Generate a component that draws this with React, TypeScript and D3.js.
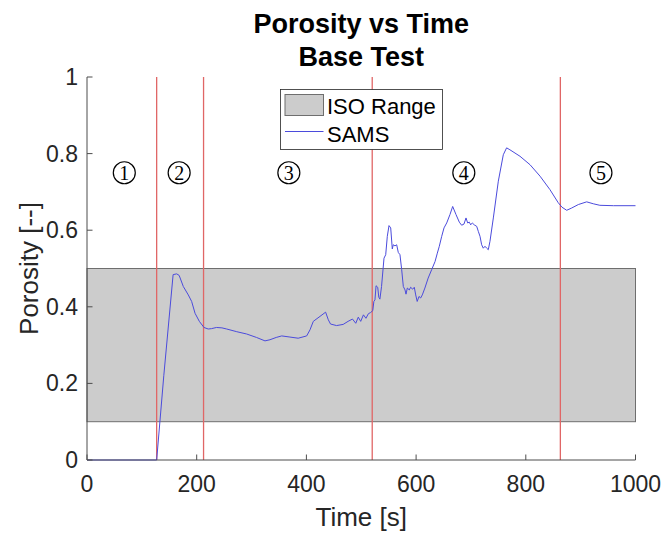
import React from "react";
import * as d3 from "d3";

// SAMS porosity samples: time [s] and porosity [--]
const timeS: number[] = [
  0, 127, 140, 157, 163.5, 168, 175.6, 184.7, 190.8, 197, 204.8, 213.3, 221, 227, 236, 246,
  254.7, 273, 291, 309, 324.5, 333.6, 345, 355, 370, 385, 400.5, 406.6, 412.6, 424.8, 435,
  440, 444, 455, 467, 476, 484, 490, 494.6, 499, 504, 508.6, 513, 517, 521, 523, 525, 527,
  530, 532, 534, 537, 541.5, 544.6, 547.5, 550.6, 553.7, 556.6, 558.4, 561.5, 564.6, 567.5,
  570.6, 573.7, 576.7, 579.8, 581.6, 584, 587.6, 590, 593.8, 596.7, 599.3, 602, 605.3,
  608.3, 611.3, 616, 622, 628.4, 634.5, 638.7, 642.3, 646.7, 650.9, 655.8, 661.8, 666.7,
  672.7, 678.8, 683, 687.3, 691, 694, 697, 699.5, 702.5, 706, 710.5, 713.4, 716.5, 719.5,
  722.5, 725.6, 728.7, 731.6, 734.7, 740.8, 749.9, 759, 765, 771, 789.4, 807.7, 826, 844,
  859, 866, 874.6, 883.7, 895.8, 911, 923, 935, 960, 1000,
];
const porosity: number[] = [
  0, 0, 0.22, 0.484, 0.486, 0.482, 0.453, 0.431, 0.414, 0.383, 0.362, 0.346, 0.342, 0.343,
  0.346, 0.345, 0.342, 0.335, 0.329, 0.32, 0.311, 0.314, 0.32, 0.324, 0.321, 0.318, 0.324,
  0.34, 0.362, 0.375, 0.386, 0.366, 0.355, 0.351, 0.354, 0.362, 0.368, 0.357, 0.373, 0.362,
  0.379, 0.37, 0.382, 0.385, 0.39, 0.414, 0.418, 0.455, 0.451, 0.425, 0.42, 0.453, 0.527,
  0.536, 0.584, 0.612, 0.606, 0.551, 0.562, 0.559, 0.562, 0.542, 0.536, 0.497, 0.453,
  0.444, 0.433, 0.449, 0.444, 0.451, 0.446, 0.451, 0.431, 0.414, 0.427, 0.423, 0.431, 0.449,
  0.475, 0.497, 0.518, 0.54, 0.558, 0.584, 0.606, 0.619, 0.641, 0.662, 0.641, 0.621, 0.613,
  0.616, 0.632, 0.619, 0.621, 0.614, 0.619, 0.614, 0.61, 0.597, 0.584, 0.562, 0.553, 0.558,
  0.553, 0.549, 0.571, 0.632, 0.728, 0.797, 0.815, 0.81, 0.793, 0.771, 0.741, 0.706, 0.672,
  0.66, 0.652, 0.658, 0.667, 0.674, 0.669, 0.665, 0.664, 0.664,
];

// ISO acceptable porosity band
const isoRange: [number, number] = [0.1, 0.5];

// Phase boundaries [s]
const phaseBounds: number[] = [127, 212.5, 520, 863];

// Phase markers: label, centre time, porosity level
const phaseLabels: string[] = ["1", "2", "3", "4", "5"];
const phaseTimes: number[] = [68, 168, 368, 687, 937];
const phaseLevel = 0.75;

const xTicks: number[] = [0, 200, 400, 600, 800, 1000];
const yTicks: number[] = [0, 0.2, 0.4, 0.6, 0.8, 1];

const W = 664;
const H = 534;
const left = 87;
const right = 635.5;
const top = 77;
const bottom = 460;

const FONT = "'Liberation Sans', Arial, Helvetica, sans-serif";
const TEXT = "#262626";
const AXIS = "#4d4d4d";

export default function App() {
  const x = d3.scaleLinear().domain([0, 1000]).range([left, right]);
  const y = d3.scaleLinear().domain([0, 1]).range([bottom, top]);

  const pts = timeS.map((t, i) => [t, porosity[i]] as [number, number]);
  const line = d3
    .line<[number, number]>()
    .x((d) => x(d[0]))
    .y((d) => y(d[1]));

  return (
    <svg width={W} height={H} style={{ position: "absolute", left: 0, top: 0, background: "#fff" }}>
      {/* title */}
      <text x={(left + right) / 2} y={33} textAnchor="middle" fontFamily={FONT} fontWeight="bold" fontSize={27} fill="#000">
        Porosity vs Time
      </text>
      <text x={(left + right) / 2} y={66} textAnchor="middle" fontFamily={FONT} fontWeight="bold" fontSize={27} fill="#000">
        Base Test
      </text>

      {/* ISO band */}
      <rect
        x={x(0)}
        y={y(isoRange[1])}
        width={x(1000) - x(0)}
        height={y(isoRange[0]) - y(isoRange[1])}
        fill="#cccccc"
        stroke="#6e6e6e"
        strokeWidth={1}
      />

      {/* phase boundaries */}
      {phaseBounds.map((t, i) => (
        <line
          key={i}
          x1={x(t)}
          x2={x(t)}
          y1={y(1)}
          y2={y(0)}
          stroke="#e06666"
          strokeWidth={1.3}
        />
      ))}

      {/* SAMS curve */}
      <path d={line(pts) || ""} fill="none" stroke="#4b4bdc" strokeWidth={1} />

      {/* phase markers */}
      {phaseLabels.map((lab, i) => (
        <g key={lab} transform={`translate(${x(phaseTimes[i])},${y(phaseLevel)})`}>
          <circle r={11} fill="none" stroke="#000" strokeWidth={1.2} />
          <text y={7} textAnchor="middle" fontFamily="'Liberation Serif', 'DejaVu Serif', serif" fontSize={20} fill="#000">
            {lab}
          </text>
        </g>
      ))}

      {/* axes */}
      <line x1={left} x2={right} y1={bottom} y2={bottom} stroke={AXIS} strokeWidth={1} />
      <line x1={left} x2={left} y1={top} y2={bottom} stroke={AXIS} strokeWidth={1} />
      {xTicks.map((t) => (
        <g key={t}>
          <line x1={x(t)} x2={x(t)} y1={bottom} y2={bottom - 5.5} stroke={AXIS} strokeWidth={1} />
          <text x={x(t)} y={492} textAnchor="middle" fontFamily={FONT} fontSize={23} fill={TEXT}>
            {t}
          </text>
        </g>
      ))}
      {yTicks.map((v) => (
        <g key={v}>
          <line x1={left} x2={left + 5.5} y1={y(v)} y2={y(v)} stroke={AXIS} strokeWidth={1} />
          <text x={78} y={y(v) + 8} textAnchor="end" fontFamily={FONT} fontSize={23} fill={TEXT}>
            {d3.format("~g")(v)}
          </text>
        </g>
      ))}

      {/* axis labels */}
      <text x={(left + right) / 2} y={526} textAnchor="middle" fontFamily={FONT} fontSize={26} fill={TEXT}>
        Time [s]
      </text>
      <text
        transform={`translate(38,${(top + bottom) / 2}) rotate(-90)`}
        textAnchor="middle"
        fontFamily={FONT}
        fontSize={26}
        fill={TEXT}
      >
        Porosity [--]
      </text>

      {/* legend */}
      <g>
        <rect x={280.5} y={89.5} width={162} height={60} fill="#fff" stroke="#262626" strokeWidth={0.8} />
        <rect x={285} y={94.5} width={38.5} height={21} fill="#cccccc" stroke="#6e6e6e" strokeWidth={1} />
        <text x={327} y={114} fontFamily={FONT} fontSize={22} fill="#000">
          ISO Range
        </text>
        <line x1={285} x2={323.5} y1={131.5} y2={131.5} stroke="#4b4bdc" strokeWidth={1} />
        <text x={327} y={141.5} fontFamily={FONT} fontSize={22} fill="#000">
          SAMS
        </text>
      </g>
    </svg>
  );
}
